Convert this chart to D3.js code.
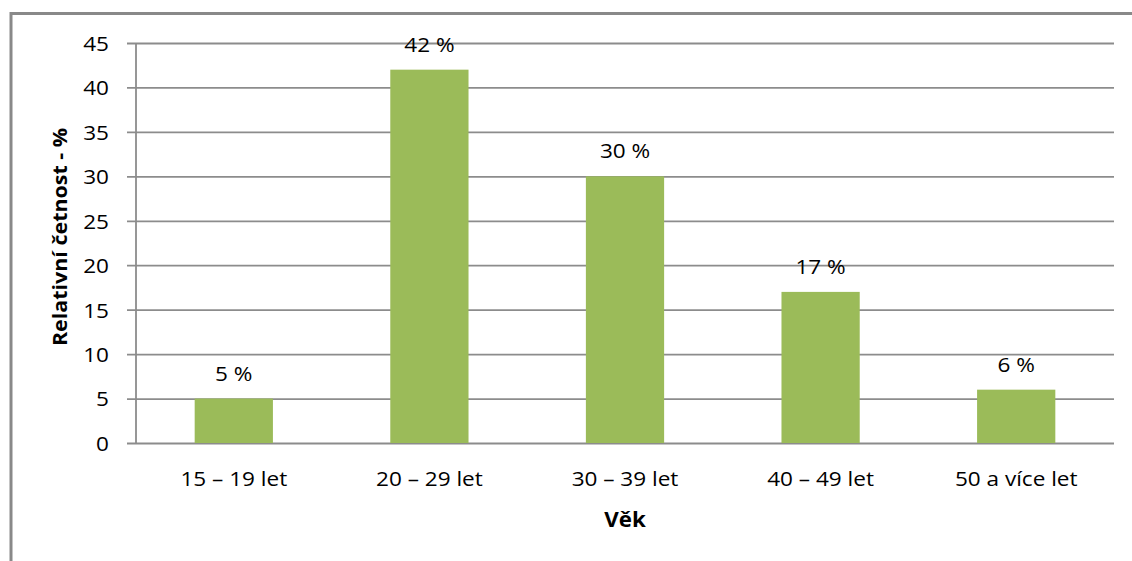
<!DOCTYPE html>
<html>
<head>
<meta charset="utf-8">
<script src="https://cdn.jsdelivr.net/npm/d3@7"></script>
<style>
  html, body { margin: 0; padding: 0; background: #fff; }
  svg text { font-family: "Open Sans", "Noto Sans", sans-serif; fill: #000; }
</style>
</head>
<body>
<svg id="chart" width="1132" height="561"></svg>
<script>
// Age groups and relative frequency (%)
const categories = ["15 – 19 let", "20 – 29 let", "30 – 39 let", "40 – 49 let", "50 a více let"];
const values = [5, 42, 30, 17, 6];
const yTicks = [0, 5, 10, 15, 20, 25, 30, 35, 40, 45];
const yTitle = "Relativní četnost - %";
const xTitle = "Věk";

const svg = d3.select("#chart");
const W = 1132, H = 561;
const plot = { left: 136, right: 1114, top: 43, bottom: 443 };
const FS = 20.5;        // label font size
const SX = 1.1;         // horizontal widening of the label face

// Widen text horizontally around its own x position
function widen(sel, sx) {
  sel.each(function () {
    const t = d3.select(this);
    const x0 = +t.attr("x") || 0;
    t.attr("x", x0 / sx).attr("transform", `scale(${sx},1)`);
  });
}

// Outer chart frame (runs off the right and bottom edges)
svg.append("rect")
  .attr("x", 11).attr("y", 13.5)
  .attr("width", W + 20).attr("height", H + 20)
  .attr("fill", "#fff")
  .attr("stroke", "#898989").attr("stroke-width", 3);

const x = d3.scaleBand()
  .domain(categories)
  .range([plot.left, plot.right])
  .paddingInner(0.6)
  .paddingOuter(0.3);

const y = d3.scaleLinear()
  .domain([0, 45])
  .range([plot.bottom, plot.top]);

// Horizontal gridlines with small tick stubs to the left of the axis
const yAxis = d3.axisLeft(y)
  .tickValues(yTicks)
  .tickSize(-(plot.right - plot.left))
  .tickFormat(d3.format("d"));

const gy = svg.append("g")
  .attr("transform", `translate(${plot.left},0)`)
  .call(yAxis);
gy.select(".domain").remove();
gy.selectAll(".tick line")
  .attr("x1", -9)
  .attr("stroke", "#8c8c8c")
  .attr("stroke-width", 1.8);
gy.selectAll(".tick text")
  .attr("font-size", FS)
  .attr("dy", "0.36em")
  .attr("x", -27)
  .call(widen, SX);

// Vertical axis line
svg.append("line")
  .attr("x1", plot.left).attr("x2", plot.left)
  .attr("y1", plot.top).attr("y2", plot.bottom)
  .attr("stroke", "#8c8c8c").attr("stroke-width", 1.8);

// Bars
svg.append("g").selectAll("rect")
  .data(values)
  .join("rect")
  .attr("x", (d, i) => x(categories[i]))
  .attr("y", d => y(d))
  .attr("width", x.bandwidth())
  .attr("height", d => y(0) - y(d))
  .attr("fill", "#9bbb59");

// Value labels
svg.append("g").selectAll("g")
  .data(values)
  .join("g")
  .attr("transform", (d, i) => `translate(${x(categories[i]) + x.bandwidth() / 2},${y(d) - 18})`)
  .append("text")
  .attr("text-anchor", "middle")
  .attr("font-size", FS)
  .attr("transform", `scale(${SX},1)`)
  .text(d => `${d} %`);

// Category labels
const xAxis = d3.axisBottom(x).tickSize(0).tickPadding(0);
const gx = svg.append("g")
  .attr("transform", `translate(0,${plot.bottom})`)
  .call(xAxis);
gx.select(".domain").remove();
gx.selectAll(".tick text")
  .attr("font-size", FS)
  .attr("dy", null)
  .attr("y", 43)
  .call(widen, SX);

// Axis titles
svg.append("text")
  .attr("transform", `translate(625,527) scale(1.09,1)`)
  .attr("text-anchor", "middle")
  .attr("font-size", 20.5)
  .attr("font-weight", "bold")
  .text(xTitle);

svg.append("text")
  .attr("transform", `translate(67,237) rotate(-90) scale(1.1,1)`)
  .attr("text-anchor", "middle")
  .attr("font-size", 19.5)
  .attr("font-weight", "bold")
  .text(yTitle);
</script>
</body>
</html>
